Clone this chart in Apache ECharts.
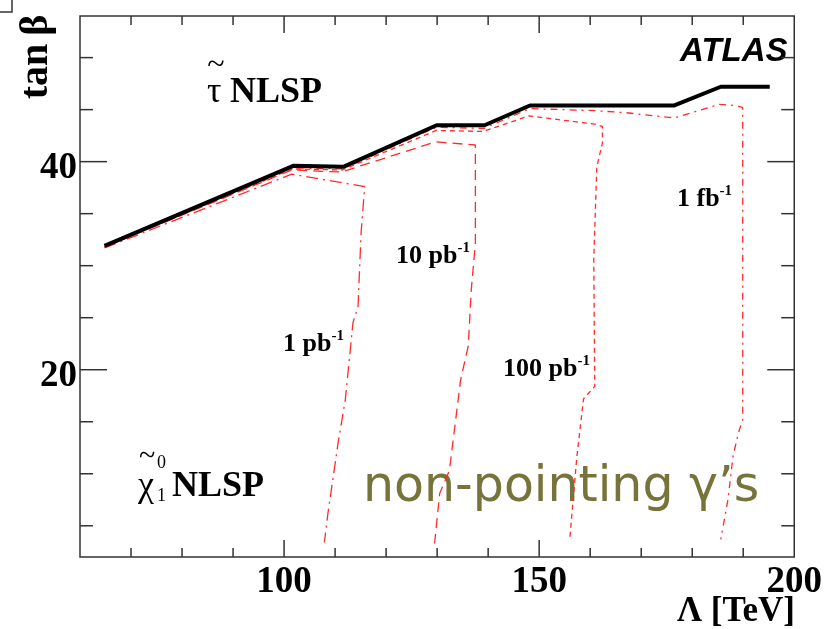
<!DOCTYPE html>
<html><head><meta charset="utf-8">
<script src="https://cdn.jsdelivr.net/npm/echarts@6/dist/echarts.min.js"></script>
<style>html,body{margin:0;padding:0;background:#fff}#c{width:825px;height:629px}</style>
</head><body><div id="c"></div>
<script>
// ---- data (Λ in TeV, tanβ) ----
const lambdaBoundary = [64.8, 101.8, 111.6, 129.9, 139.3, 148.2, 176.5, 185.6, 195.2];
const tanbBoundary   = [31.9, 39.6, 39.5, 43.5, 43.5, 45.4, 45.4, 47.2, 47.2];

const lambda1pb = [64.8, 101.5, 115.8, 115.1, 114.5, 113.5, 112.0, 110.6, 108.6, 107.9];
const tanb1pb   = [31.7, 38.8, 37.6, 33.2, 26.1, 24.5, 17.1, 13.0, 6.2, 3.4];

const lambda10pb = [64.8, 101.5, 111.2, 129.7, 137.5, 137.5, 136.7, 136.1, 134.6, 132.4, 130.5, 129.5];
const tanb10pb   = [31.8, 39.2, 39.0, 41.9, 41.6, 32.2, 27.7, 22.3, 19.0, 10.3, 8.1, 3.3];

const lambda100pb = [64.8, 101.6, 111.4, 129.8, 139.0, 148.0, 160.9, 162.4, 162.4, 161.3, 160.7, 160.9, 158.7, 157.4, 156.0];
const tanb100pb   = [31.8, 39.3, 39.2, 43.0, 42.9, 44.4, 43.6, 43.4, 41.8, 39.5, 30.6, 18.4, 17.2, 11.7, 3.7];

const lambda1fb = [64.8, 101.6, 111.5, 129.8, 139.2, 148.2, 161.0, 167.1, 176.5, 185.3, 188.6, 189.9, 189.9, 189.9, 189.1, 188.0, 187.0, 185.6];
const tanb1fb   = [31.8, 39.4, 39.3, 43.3, 43.2, 45.1, 44.9, 44.7, 44.2, 45.5, 45.4, 45.2, 30.0, 15.2, 14.0, 11.7, 7.5, 3.7];

// ---- axes / ticks ----
const xRange = [60, 200];
const yRange = [2, 54];
const xLabels = [100, 150, 200];
const yLabels = [20, 40];
const xTicks = [70, 80, 90, 100, 110, 120, 130, 140, 150, 160, 170, 180, 190];
const xMajorTicks = [100, 150];
const yTicks = [5, 10, 15, 20, 25, 30, 35, 40, 45, 50];
const yMajorTicks = [20, 40];

const zip = (a, b) => a.map((v, i) => [v, b[i]]);
const SERIF = '"Liberation Serif", "Times New Roman", serif';
const RED = '#ff2a2a';
const FRAME = '#333';

const chart = echarts.init(document.getElementById('c'), null, {renderer: 'canvas'});

function lineSeries(name, lam, tb, style, z) {
  return {
    name, type: 'line', data: zip(lam, tb), symbol: 'none', silent: true, z,
    lineStyle: style, animation: false
  };
}

const option = {
  animation: false,
  backgroundColor: '#fff',
  grid: {left: 80, right: 27, top: 16, bottom: 72, show: true, borderColor: FRAME, borderWidth: 1.5, backgroundColor: 'transparent'},
  xAxis: {
    type: 'value', min: xRange[0], max: xRange[1], interval: 10,
    axisLine: {show: false}, axisTick: {show: false}, splitLine: {show: false},
    axisLabel: {
      formatter: v => xLabels.includes(v) ? String(v) : '',
      fontFamily: SERIF, fontWeight: 'bold', fontSize: 37, color: '#000', margin: 7
    }
  },
  yAxis: {
    type: 'value', min: yRange[0], max: yRange[1], interval: 1,
    axisLine: {show: false}, axisTick: {show: false}, splitLine: {show: false},
    axisLabel: {show: false}
  },
  series: [
    lineSeries('1 pb-1', lambda1pb, tanb1pb, {color: RED, width: 1.3, type: [12, 5, 2, 5]}, 3),
    lineSeries('10 pb-1', lambda10pb, tanb10pb, {color: RED, width: 1.3, type: [10, 6]}, 3),
    lineSeries('100 pb-1', lambda100pb, tanb100pb, {color: RED, width: 1.3, type: [5, 4]}, 3),
    lineSeries('1 fb-1', lambda1fb, tanb1fb, {color: RED, width: 1.3, type: [7, 5, 2, 5]}, 3),
    lineSeries('boundary', lambdaBoundary, tanbBoundary, {color: '#000', width: 4, type: 'solid'}, 5),
    {
      type: 'custom', coordinateSystem: 'cartesian2d', silent: true, z: 6,
      data: xTicks.map(v => [v, yRange[0]]),
      renderItem: (params, api) => {
        const v = api.value(0);
        const p = api.coord([v, yRange[0]]);
        const cs = params.coordSys;
        const len = xMajorTicks.includes(v) ? 17 : 9;
        const st = {stroke: FRAME, lineWidth: 1.5};
        return {type: 'group', children: [
          {type: 'line', shape: {x1: p[0], y1: cs.y + cs.height, x2: p[0], y2: cs.y + cs.height - len}, style: st},
          {type: 'line', shape: {x1: p[0], y1: cs.y, x2: p[0], y2: cs.y + len}, style: st}
        ]};
      }
    },
    {
      type: 'custom', coordinateSystem: 'cartesian2d', silent: true, z: 6,
      data: yTicks.map(v => [xRange[0], v]),
      renderItem: (params, api) => {
        const v = api.value(1);
        const p = api.coord([xRange[0], v]);
        const cs = params.coordSys;
        const len = yMajorTicks.includes(v) ? 27 : 13;
        const st = {stroke: FRAME, lineWidth: 1.5};
        return {type: 'group', children: [
          {type: 'line', shape: {x1: cs.x, y1: p[1], x2: cs.x + len, y2: p[1]}, style: st},
          {type: 'line', shape: {x1: cs.x + cs.width, y1: p[1], x2: cs.x + cs.width - len, y2: p[1]}, style: st}
        ]};
      }
    },
    {
      // y tick labels, placed through the axis scale
      type: 'custom', coordinateSystem: 'cartesian2d', silent: true, z: 6, clip: false,
      data: yLabels.map(v => [xRange[0], v]),
      renderItem: (params, api) => {
        const v = api.value(1);
        const p = api.coord([xRange[0], v]);
        return {type: 'text', x: p[0] - 3, y: p[1] + 7,
          style: {text: String(v), font: 'bold 37px ' + SERIF, fill: '#000', align: 'right', verticalAlign: 'middle'}};
      }
    }
  ],
  graphic: [
    {type: 'polyline', shape: {points: [[0, 12], [12, 12], [12, 0]]}, style: {stroke: FRAME, lineWidth: 1.5, fill: null}},
    {type: 'text', x: 37, y: 57, rotation: Math.PI / 2,
      style: {text: 'tan\u2009β', font: 'bold 40px ' + SERIF, fill: '#000', align: 'center', verticalAlign: 'middle'}},
    {type: 'text', x: 795, y: 612,
      style: {text: 'Λ [TeV]', font: 'bold 35px ' + SERIF, fill: '#000', align: 'right', verticalAlign: 'middle'}},
    {type: 'text', x: 680, y: 52,
      style: {text: 'ATLAS', font: 'italic bold 33px "Liberation Sans", Arial, sans-serif', fill: '#000', align: 'left', verticalAlign: 'middle'}},
    // stau NLSP
    {type: 'text', x: 216, y: 66,
      style: {text: '~', font: '32px ' + SERIF, fill: '#000', align: 'center', verticalAlign: 'middle'}},
    {type: 'text', x: 207, y: 93,
      style: {text: 'τ', font: '36px ' + SERIF, fill: '#000', align: 'left', verticalAlign: 'middle'}},
    {type: 'text', x: 230, y: 93,
      style: {text: 'NLSP', font: 'bold 36px ' + SERIF, fill: '#000', align: 'left', verticalAlign: 'middle'}},
    // neutralino NLSP
    {type: 'text', x: 147, y: 457,
      style: {text: '~', font: '30px ' + SERIF, fill: '#000', align: 'center', verticalAlign: 'middle'}},
    {type: 'text', x: 138, y: 487,
      style: {text: 'χ', font: '36px ' + SERIF, fill: '#000', align: 'left', verticalAlign: 'middle'}},
    {type: 'text', x: 157, y: 463,
      style: {text: '0', font: '18px ' + SERIF, fill: '#000', align: 'left', verticalAlign: 'middle'}},
    {type: 'text', x: 157, y: 496,
      style: {text: '1', font: '18px ' + SERIF, fill: '#000', align: 'left', verticalAlign: 'middle'}},
    {type: 'text', x: 172, y: 487,
      style: {text: 'NLSP', font: 'bold 36px ' + SERIF, fill: '#000', align: 'left', verticalAlign: 'middle'}},
    // luminosity labels
    ...[
      ['1 pb', '-1', 283, 353],
      ['10 pb', '-1', 396, 265],
      ['100 pb', '-1', 503, 378],
      ['1 fb', '-1', 677, 208]
    ].map(([t, s, x, y]) => ({
      type: 'text', x: x, y: y - 9,
      style: {
        text: '{a|' + t + '}{s|' + s + '}',
        align: 'left', verticalAlign: 'middle',
        rich: {
          a: {fontFamily: SERIF, fontWeight: 'bold', fontSize: 26, lineHeight: 30, fill: '#000', color: '#000'},
          s: {fontFamily: SERIF, fontWeight: 'bold', fontSize: 15, lineHeight: 15, verticalAlign: 'top', fill: '#000', color: '#000'}
        }
      }
    })),
    {type: 'text', x: 363, y: 488,
      style: {text: 'non-pointing γ’s', font: '49px "DejaVu Sans", Verdana, sans-serif', fill: '#76743a', align: 'left', verticalAlign: 'middle'}}
  ]
};
chart.setOption(option);
</script>
</body></html>
